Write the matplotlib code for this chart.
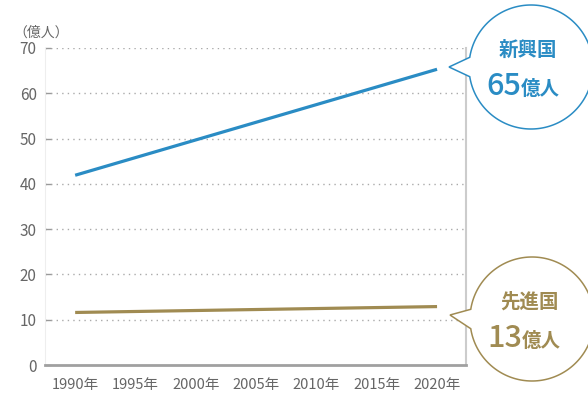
import numpy as np
import matplotlib.pyplot as plt
from matplotlib.patches import Polygon

plt.rcParams['font.family'] = ['Noto Sans CJK JP', 'DejaVu Sans']

# データ（読み取り値）
years = [1990, 2020]
emerging = [41.9, 65.3]
developed = [11.6, 12.9]
xticks = [1990, 1995, 2000, 2005, 2010, 2015, 2020]
xlabels = [f"{y}年" for y in xticks]
yticks = [0, 10, 20, 30, 40, 50, 60, 70]

blue = '#2a8cc4'
gold = '#a08b52'
gray = '#666666'

fig = plt.figure(figsize=(5.88, 3.96), dpi=100)
ax = fig.add_axes([45/588, 1-365/396, (466-45)/588, (365-48)/396])

ax.plot(years, emerging, color=blue, lw=2.3, solid_capstyle='butt', zorder=3)
ax.plot(years, developed, color=gold, lw=2.3, solid_capstyle='butt', zorder=3)

ax.set_xlim(1987.5, 2022.4)
ax.set_ylim(0, 70)
ax.set_xticks(xticks)
ax.set_xticklabels(xlabels)
ax.set_yticks(yticks)
ax.tick_params(axis='x', length=0, pad=9, labelsize=10.5, labelcolor=gray)
ax.tick_params(axis='y', direction='in', length=4.5, width=1, color='#999999',
               pad=6, labelsize=11, labelcolor=gray)
for y in yticks[1:]:
    ax.axhline(y, color='#aaaaaa', lw=1, ls=(0, (1, 3)), zorder=1)

ax.spines['top'].set_visible(False)
ax.spines['left'].set_color('#eeeeee')
ax.spines['right'].set_color('#cccccc')
ax.spines['right'].set_linewidth(1.5)
ax.spines['bottom'].set_color('#a0a0a0')
ax.spines['bottom'].set_linewidth(2)

fig.text(13/588, 1-33/396, '（億人）', fontsize=10, color=gray, va='center', ha='left')

# 吹き出し
ov = fig.add_axes([0, 0, 1, 1], zorder=5)
ov.set_xlim(0, 588)
ov.set_ylim(396, 0)
ov.axis('off')
ov.patch.set_alpha(0)


def bubble(cx, cy, r, tip, color, title, num):
    gap = np.deg2rad(9)
    ang = np.linspace(np.pi + gap, np.pi - gap + 2*np.pi, 200)
    pts = [(cx + r*np.cos(a), cy + r*np.sin(a)) for a in ang]
    pts.append(tip)
    ov.add_patch(Polygon(pts, closed=True, facecolor='white', edgecolor=color, lw=1.1))
    ov.text(cx - 3, cy - 17, title, color=color, fontsize=14, fontweight='bold',
            ha='center', va='center')
    ov.text(cx - 10, cy + 28, num, color=color, fontsize=22, fontweight='medium',
            ha='right', va='baseline')
    ov.text(cx - 10, cy + 28, '億人', color=color, fontsize=14, fontweight='bold',
            ha='left', va='baseline')


bubble(531, 67, 62, (449, 67), blue, '新興国', '65')
bubble(532, 319, 62, (450, 315), gold, '先進国', '13')

fig.savefig('out.png', dpi=100)
